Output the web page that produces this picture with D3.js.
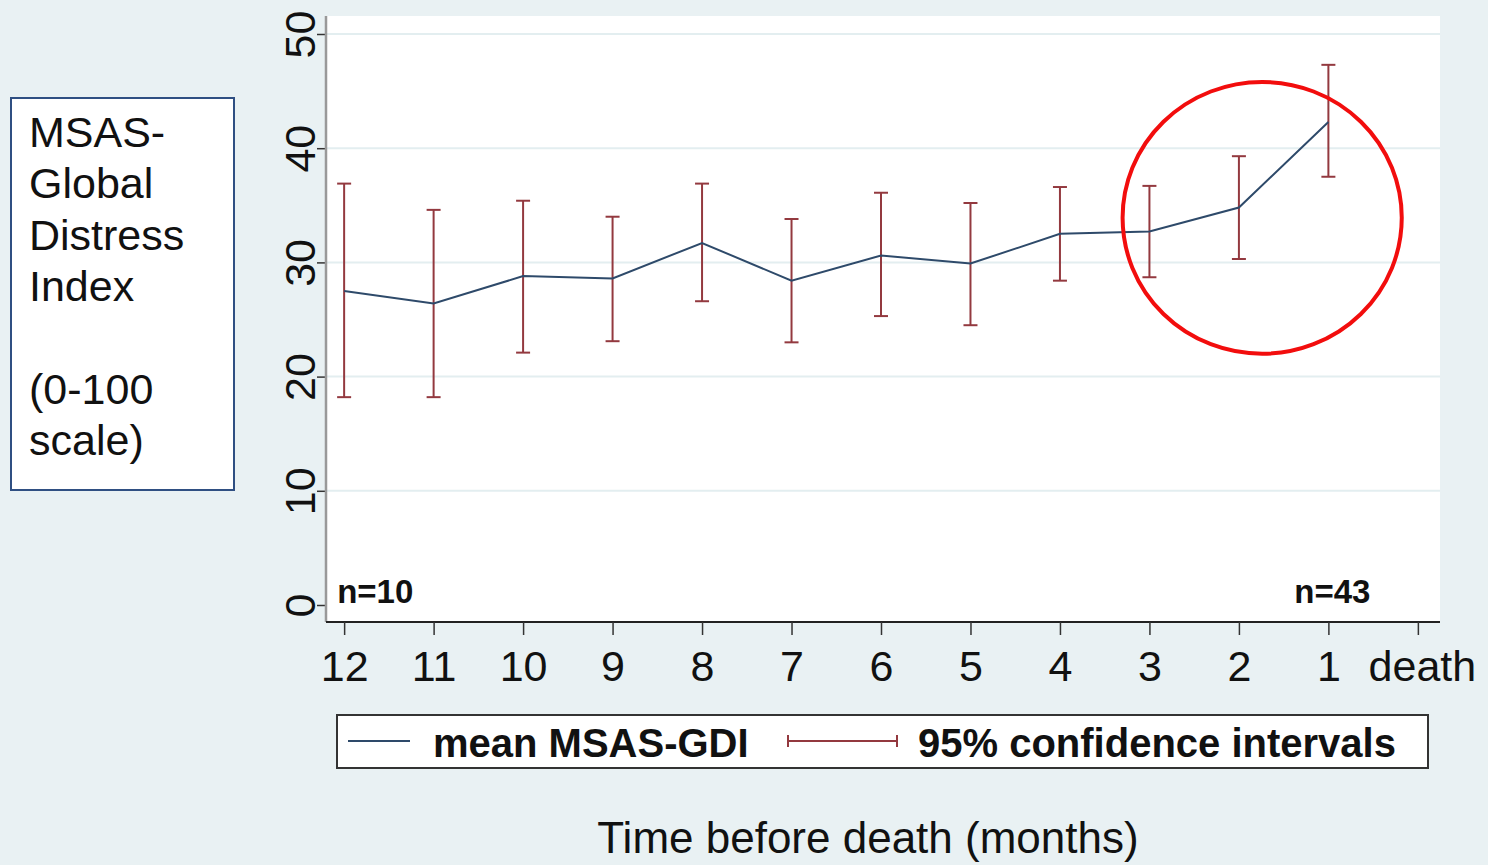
<!DOCTYPE html>
<html>
<head>
<meta charset="utf-8">
<script src="https://cdn.jsdelivr.net/npm/d3@7"></script>
<style>
  body { margin: 0; background: #e9f1f3; }
  svg { display: block; font-family: "Liberation Sans", Arial, sans-serif; }
</style>
</head>
<body>
<div id="chart"></div>
<script>
// months before death, 12 -> 1, plus the "death" end tick
const monthLabels = ["12", "11", "10", "9", "8", "7", "6", "5", "4", "3", "2", "1", "death"];
const meanScores = [27.5, 26.4, 28.8, 28.6, 31.7, 28.4, 30.6, 29.9, 32.5, 32.7, 34.8, 42.3];
const ciUpper = [36.9, 34.6, 35.4, 34.0, 36.9, 33.8, 36.1, 35.2, 36.6, 36.7, 39.3, 47.3];
const ciLower = [18.2, 18.2, 22.1, 23.1, 26.6, 23.0, 25.3, 24.5, 28.4, 28.7, 30.3, 37.5];
const yTicks = [0, 10, 20, 30, 40, 50];
const sampleNotes = [
  { label: "n=10", month: "12" },
  { label: "n=43", month: "1" }
];
const yTitleLines = ["MSAS-", "Global", "Distress", "Index", "", "(0-100", "scale)"];
// highlight ellipse, in months / score units
const highlight = { month: 1.74, score: 33.9, rMonths: 1.56, rScore: 11.9 };

const width = 1488;
const height = 865;
const plot = { left: 326, top: 16, right: 1440, bottom: 622 };
const lineColor = "#2e4a6a";
const ciColor = "#93393f";

const svg = d3.select("#chart")
  .append("svg")
  .attr("width", width)
  .attr("height", height);

svg.append("rect")
  .attr("width", width)
  .attr("height", height)
  .attr("fill", "#e9f1f3");

svg.append("rect")
  .attr("x", plot.left)
  .attr("y", plot.top)
  .attr("width", plot.right - plot.left)
  .attr("height", plot.bottom - plot.top)
  .attr("fill", "#fff");

const xScale = d3.scalePoint()
  .domain(monthLabels)
  .range([plot.left - 2, plot.right - 2])
  .padding(0.225);

const xMonth = d3.scaleLinear()
  .domain([12, 0])
  .range([xScale("12"), xScale("death")]);

const yScale = d3.scaleLinear()
  .domain([0, 50])
  .range([605, 34]);

// gridlines
svg.append("g")
  .selectAll("line")
  .data(yTicks.filter(d => d > 0))
  .join("line")
  .attr("x1", plot.left)
  .attr("x2", plot.right)
  .attr("y1", d => yScale(d))
  .attr("y2", d => yScale(d))
  .attr("stroke", "#e3eef0")
  .attr("stroke-width", 2);

// y axis
const yAxis = svg.append("g")
  .attr("transform", `translate(${plot.left},0)`)
  .call(d3.axisLeft(yScale).tickValues(yTicks).tickSize(9).tickSizeOuter(0));
yAxis.select(".domain").remove();
yAxis.selectAll(".tick line").attr("stroke", "#333").attr("stroke-width", 1.5);
yAxis.selectAll("text")
  .attr("transform", "rotate(-90)")
  .attr("x", 0)
  .attr("y", -11)
  .attr("dy", 0)
  .attr("text-anchor", "middle")
  .attr("font-size", 43)
  .attr("fill", "#111");
svg.append("line")
  .attr("x1", plot.left)
  .attr("x2", plot.left)
  .attr("y1", plot.top)
  .attr("y2", plot.bottom)
  .attr("stroke", "#999")
  .attr("stroke-width", 2.5);

// x axis
const xAxis = svg.append("g")
  .attr("transform", `translate(0,${plot.bottom})`)
  .call(d3.axisBottom(xScale).tickSize(13).tickSizeOuter(0).tickPadding(15));
xAxis.select(".domain")
  .attr("d", `M${plot.left},0H${plot.right}`)
  .attr("stroke", "#222")
  .attr("stroke-width", 2);
xAxis.selectAll(".tick line").attr("stroke", "#333").attr("stroke-width", 1.5);
xAxis.selectAll("text")
  .attr("font-size", 43)
  .attr("fill", "#111");
xAxis.selectAll(".tick")
  .filter(d => d === "death")
  .select("text")
  .attr("dx", 4);

// confidence intervals
const ci = svg.append("g")
  .attr("stroke", ciColor)
  .attr("stroke-width", 2);
meanScores.forEach((m, i) => {
  const x = xScale(monthLabels[i]);
  ci.append("line")
    .attr("x1", x).attr("x2", x)
    .attr("y1", yScale(ciLower[i])).attr("y2", yScale(ciUpper[i]));
  [ciLower[i], ciUpper[i]].forEach(v => {
    ci.append("line")
      .attr("x1", x - 7).attr("x2", x + 7)
      .attr("y1", yScale(v)).attr("y2", yScale(v));
  });
});

// mean line
const line = d3.line()
  .x((d, i) => xScale(monthLabels[i]))
  .y(d => yScale(d));

svg.append("path")
  .datum(meanScores)
  .attr("d", line)
  .attr("fill", "none")
  .attr("stroke", lineColor)
  .attr("stroke-width", 2);

// sample size notes
svg.selectAll(".note")
  .data(sampleNotes)
  .join("text")
  .attr("class", "note")
  .attr("x", d => xScale(d.month) + (d.month === "12" ? -7 : 4))
  .attr("y", yScale(0) - 2)
  .attr("text-anchor", d => d.month === "12" ? "start" : "middle")
  .attr("font-size", 33)
  .attr("font-weight", "bold")
  .attr("fill", "#111")
  .text(d => d.label);

// red highlight ellipse
svg.append("ellipse")
  .attr("cx", xMonth(highlight.month))
  .attr("cy", yScale(highlight.score))
  .attr("rx", Math.abs(xMonth(0) - xMonth(highlight.rMonths)))
  .attr("ry", Math.abs(yScale(0) - yScale(highlight.rScore)))
  .attr("fill", "none")
  .attr("stroke", "#f20d0d")
  .attr("stroke-width", 4);

// y title box
const titleBox = svg.append("g");
titleBox.append("rect")
  .attr("x", 11)
  .attr("y", 98)
  .attr("width", 223)
  .attr("height", 392)
  .attr("fill", "#fff")
  .attr("stroke", "#2f4f82")
  .attr("stroke-width", 2);
titleBox.selectAll("text")
  .data(yTitleLines)
  .join("text")
  .attr("x", 29)
  .attr("y", (d, i) => 147 + i * 51.4)
  .attr("font-size", 43)
  .attr("fill", "#111")
  .text(d => d);

// legend
const legend = svg.append("g");
legend.append("rect")
  .attr("x", 337)
  .attr("y", 715)
  .attr("width", 1091)
  .attr("height", 53)
  .attr("fill", "#fff")
  .attr("stroke", "#333")
  .attr("stroke-width", 2);
legend.append("line")
  .attr("x1", 348).attr("x2", 410)
  .attr("y1", 741).attr("y2", 741)
  .attr("stroke", lineColor)
  .attr("stroke-width", 2);
legend.append("text")
  .attr("x", 433)
  .attr("y", 757)
  .attr("font-size", 40)
  .attr("font-weight", "bold")
  .attr("fill", "#111")
  .text("mean MSAS-GDI");
const ciKey = legend.append("g")
  .attr("stroke", ciColor)
  .attr("stroke-width", 2);
ciKey.append("line")
  .attr("x1", 788).attr("x2", 897)
  .attr("y1", 741).attr("y2", 741);
[788, 897].forEach(x => {
  ciKey.append("line")
    .attr("x1", x).attr("x2", x)
    .attr("y1", 735).attr("y2", 747);
});
legend.append("text")
  .attr("x", 918)
  .attr("y", 757)
  .attr("font-size", 40)
  .attr("font-weight", "bold")
  .attr("fill", "#111")
  .text("95% confidence intervals");

// x title
svg.append("text")
  .attr("x", 868)
  .attr("y", 853)
  .attr("text-anchor", "middle")
  .attr("font-size", 44)
  .attr("fill", "#111")
  .text("Time before death (months)");
</script>
</body>
</html>
